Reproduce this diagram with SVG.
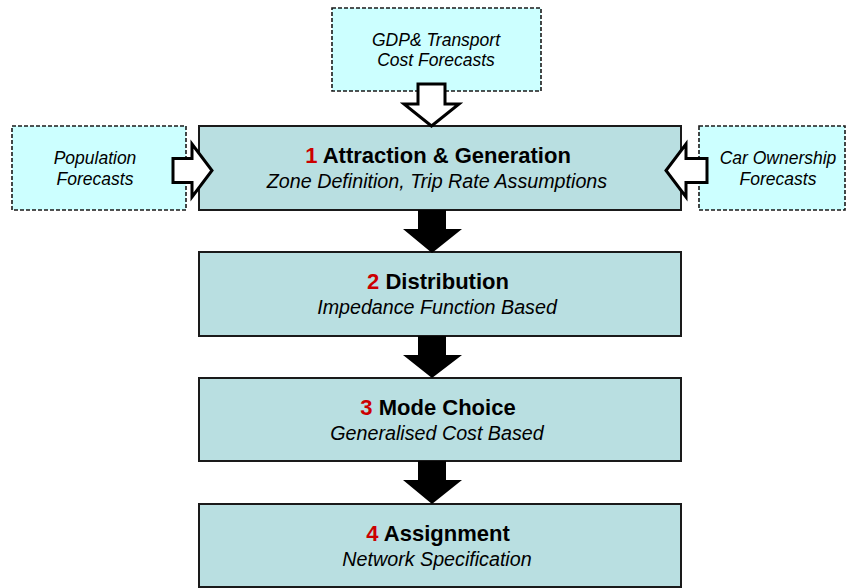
<svg xmlns="http://www.w3.org/2000/svg" width="846" height="588" viewBox="0 0 846 588">
<style>
.node{fill:#b9dfe1;stroke:#1a1a1a;stroke-width:2}
.input{fill:#ccffff;stroke:#1a1a1a;stroke-width:1.6;stroke-dasharray:4 2}
.hollow{fill:#ffffff;stroke:#000000;stroke-width:3;stroke-linejoin:miter}
.solid{fill:#000000;stroke:none}
.title{font-family:"Liberation Sans",Arial,sans-serif;font-weight:bold;font-size:22px;fill:#000;text-anchor:middle}
.num{fill:#cc0000}
.sub{font-family:"Liberation Sans",Arial,sans-serif;font-style:italic;font-size:19.7px;fill:#000;text-anchor:middle}
.in{font-family:"Liberation Sans",Arial,sans-serif;font-style:italic;font-size:17.5px;fill:#000;text-anchor:middle}
</style>
<rect width="846" height="588" fill="#ffffff"/>

<g id="gdp-input">
<rect class="input" x="332" y="8" width="209" height="83"/>
<text class="in" x="436" y="46">GDP&amp; Transport</text>
<text class="in" x="436" y="66">Cost Forecasts</text>
</g>

<g id="population-input">
<rect class="input" x="12" y="126" width="174" height="84"/>
<text class="in" x="95" y="164">Population</text>
<text class="in" x="95" y="185">Forecasts</text>
</g>

<g id="car-input">
<rect class="input" x="699" y="126" width="146" height="84"/>
<text class="in" x="778" y="164">Car Ownership</text>
<text class="in" x="778" y="185">Forecasts</text>
</g>

<g id="node1">
<rect class="node" x="199" y="126" width="482" height="84"/>
<text class="title" x="438" y="163"><tspan class="num">1</tspan> Attraction &amp; Generation</text>
<text class="sub" x="437" y="188">Zone Definition, Trip Rate Assumptions</text>
</g>

<g id="node2">
<rect class="node" x="199" y="252" width="482" height="84"/>
<text class="title" x="438" y="289"><tspan class="num">2</tspan> Distribution</text>
<text class="sub" x="437" y="314">Impedance Function Based</text>
</g>

<g id="node3">
<rect class="node" x="199" y="378" width="482" height="83"/>
<text class="title" x="438" y="415"><tspan class="num">3</tspan> Mode Choice</text>
<text class="sub" x="437" y="440">Generalised Cost Based</text>
</g>

<g id="node4">
<rect class="node" x="199" y="504" width="482" height="83"/>
<text class="title" x="438" y="541"><tspan class="num">4</tspan> Assignment</text>
<text class="sub" x="437" y="566">Network Specification</text>
</g>

<g id="connectors">
<path class="hollow" d="M418,84 H445 V104 H459 L431.5,126 L404,104 H418 Z"/>
<path class="hollow" d="M173,158.5 H192 V144 L212,170.5 L192,197 V182.5 H173 Z"/>
<path class="hollow" d="M707,158.5 H686 V144 L666,170.5 L686,197 V182.5 H707 Z"/>
<path class="solid" d="M418,210 H446 V229 H462 L432,253 L403,229 H418 Z"/>
<path class="solid" d="M418,336 H446 V355 H462 L432,378 L403,355 H418 Z"/>
<path class="solid" d="M418,461 H446 V480 H462 L432,504 L403,480 H418 Z"/>
</g>
</svg>
